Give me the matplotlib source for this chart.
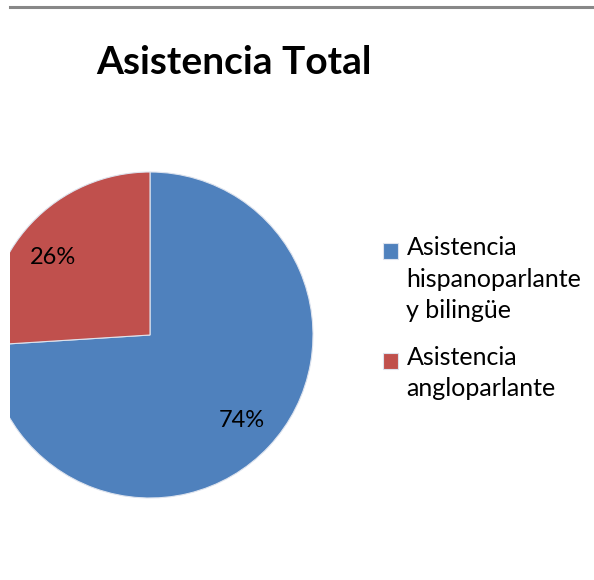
import matplotlib.pyplot as plt
from matplotlib.lines import Line2D
from matplotlib.patches import Rectangle
from matplotlib.legend_handler import HandlerPatch

# Excel-style colours
BLUE = '#4F81BD'
RED = '#C0504D'
RULE = '#888888'

labels = ['Asistencia\nhispanoparlante\ny bilingüe', 'Asistencia\nangloparlante']
values = [74, 26]
colors = [BLUE, RED]

plt.rcParams['font.family'] = ['Lato', 'DejaVu Sans']

W, H = 594, 580
LEG_FS = 18
LINE_PT = 32 * 72 / 100  # baseline-to-baseline distance in the legend text

fig = plt.figure(figsize=(W / 100, H / 100), dpi=100, facecolor='white')

# axes in pixel-like data units, left edge clipped like the original crop
ax = fig.add_axes([10 / W, 0, (W - 10) / W, 1])
wedges, texts, autotexts = ax.pie(
    values, colors=colors, startangle=90, counterclock=False,
    radius=163, center=(150, H - 335), autopct='%1.0f%%', pctdistance=0.77,
    wedgeprops=dict(edgecolor='#DDE3EE', linewidth=0.8),
    textprops=dict(fontsize=17, color='black'))
for w in wedges:
    w.set_clip_on(True)
ax.set_xlim(10, W)
ax.set_ylim(0, H)
ax.set_aspect('equal')
ax.axis('off')

# small nudge so the 26% sits where Excel put it
x, y = autotexts[1].get_position()
autotexts[1].set_position((x - 6, y - 8))

# grey rule at the top
fig.add_artist(Line2D([10 / W, 1], [1 - 6.5 / H] * 2, color=RULE, lw=2.2,
                      transform=fig.transFigure))

fig.text(234 / W, 1 - 74 / H, 'Asistencia Total', fontsize=28, fontweight='bold',
         ha='center', va='baseline')


# put the legend square next to the first line of a multi-line label
def top_square(nlines):
    def make(legend, orig_handle, xdescent, ydescent, width, height, fontsize):
        dy = (nlines - 1) / 2 * LINE_PT
        return Rectangle((-xdescent, -ydescent + dy - 2.5), width, height)
    return HandlerPatch(patch_func=make)


hmap = {w: top_square(lab.count('\n') + 1) for w, lab in zip(wedges, labels)}
leg = fig.legend(wedges, labels, loc='upper left', bbox_to_anchor=(383 / W, 1 - 236 / H),
                 frameon=False, fontsize=LEG_FS, borderpad=0, borderaxespad=0,
                 handlelength=0.6, handleheight=0.58, handletextpad=0.34,
                 labelspacing=0.95, handler_map=hmap)
for t in leg.get_texts():
    t.set_linespacing(1.45)

fig.savefig('out.png', dpi=100, facecolor='white')
